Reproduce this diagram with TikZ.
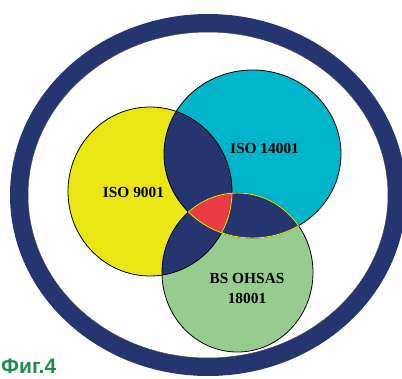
\documentclass[tikz,border=0pt]{standalone}
\usepackage{fontspec}
\setmainfont{Liberation Serif}
\newfontfamily\labelsans{Liberation Sans}
\usetikzlibrary{positioning}

\definecolor{ringblue}{HTML}{253570}
\definecolor{isoyellow}{HTML}{E9E614}
\definecolor{isocyan}{HTML}{00B5CB}
\definecolor{ohsgreen}{HTML}{96CD8E}
\definecolor{corered}{HTML}{EC3B40}
\definecolor{figgreen}{HTML}{1E8C50}

\def\qualset{(150,191.5) ellipse [x radius=82, y radius=84.5]}
\def\envset{(252.5,154) ellipse [x radius=88.5, y radius=84]}
\def\safeset{(237.5,272.5) ellipse [x radius=75.5, y radius=79.5]}

\begin{document}
\begin{tikzpicture}[x=1pt, y=-1pt,
    setline/.style={draw=black, line width=0.8pt},
    seam/.style={draw=isoyellow, line width=0.9pt},
    stdlabel/.style={font=\fontsize{15.4}{20}\selectfont\bfseries, align=center, inner sep=0pt}]
  \useasboundingbox (0,0) rectangle (402,378);
  \clip (0,0) rectangle (402,378);

  % Outer ring
  \draw[ringblue, line width=18pt] (208,195) ellipse [x radius=189, y radius=172];
  \draw[black!70, line width=0.5pt] (208,195) ellipse [x radius=180, y radius=163];

  % The three circles
  \fill[isoyellow] \qualset;
  \fill[isocyan] \envset;
  \fill[ohsgreen] \safeset;

  % Pairwise overlaps
  \begin{scope}
    \clip \qualset;
    \fill[ringblue] \envset;
    \fill[ringblue] \safeset;
  \end{scope}
  \begin{scope}
    \clip \envset;
    \fill[ringblue] \safeset;
  \end{scope}

  % Common part of all three
  \begin{scope}
    \clip \qualset;
    \clip \envset;
    \fill[corered] \safeset;
  \end{scope}

  % Outlines
  \draw[setline] \qualset;
  \draw[setline] \envset;
  \draw[setline] \safeset;
  \begin{scope}
    \clip \envset;
    \draw[seam] \safeset;
  \end{scope}
  \begin{scope}
    \clip \safeset;
    \draw[seam] \envset;
    \clip \envset;
    \draw[seam] \qualset;
  \end{scope}

  % Labels
  \node[stdlabel] (qual) at (133.5,192) {ISO 9001};
  \node[stdlabel] (env) at (264.5,148) {ISO 14001};
  \node[stdlabel] (safe) at (247,288) {BS OHSAS\\18001};

  \node[anchor=base west, inner sep=0pt, text=figgreen,
        font=\labelsans\fontsize{21}{24}\selectfont\bfseries] (fig) at (1,373) {Фиг.4};
\end{tikzpicture}
\end{document}
